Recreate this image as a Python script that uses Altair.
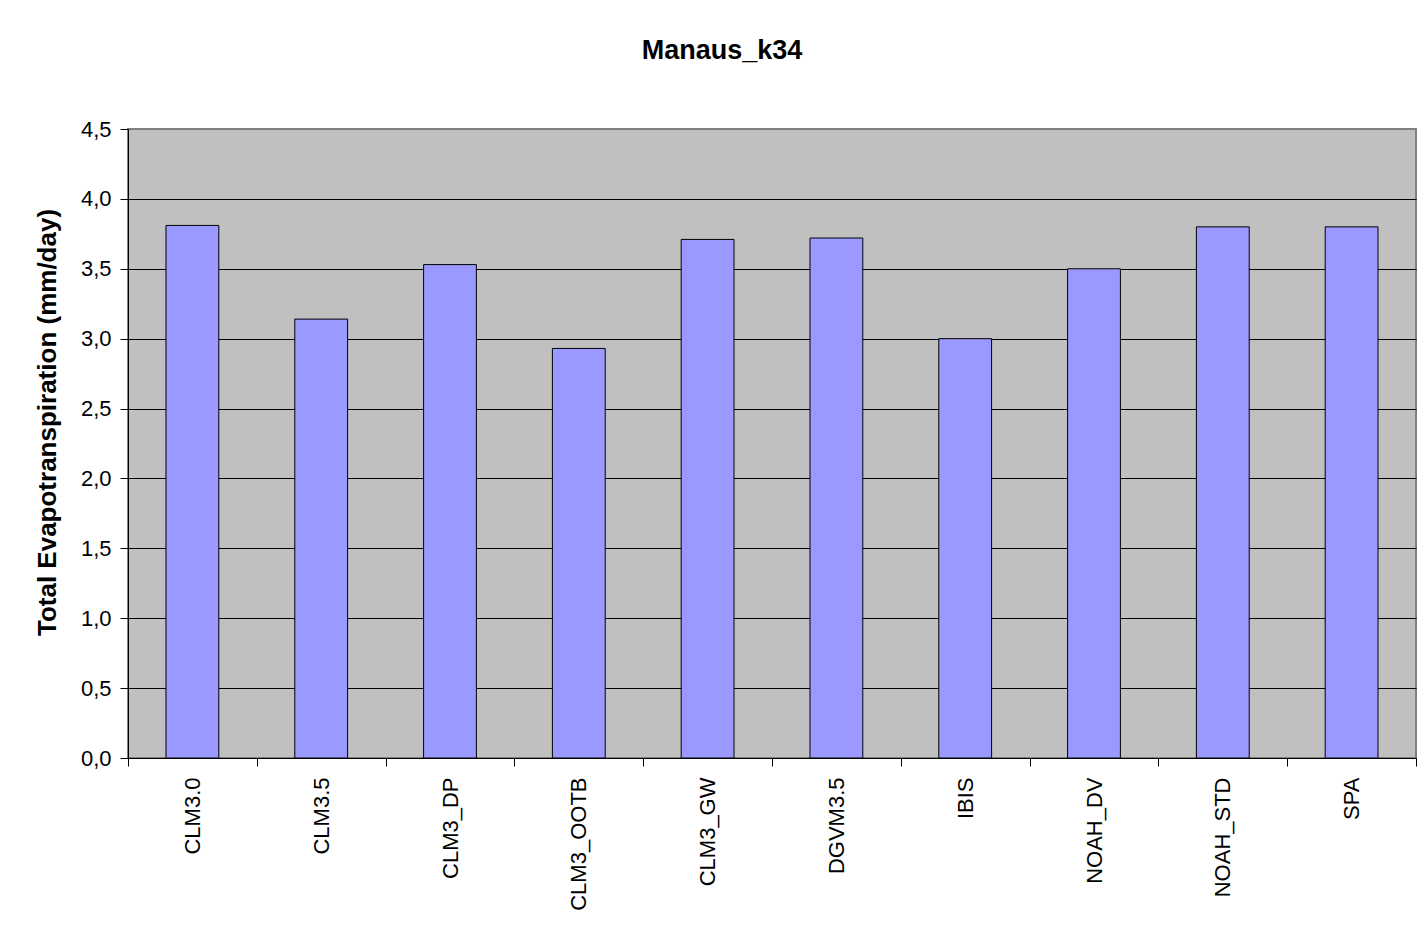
import altair as alt
import pandas as pd

models = ["CLM3.0", "CLM3.5", "CLM3_DP", "CLM3_OOTB", "CLM3_GW",
          "DGVM3.5", "IBIS", "NOAH_DV", "NOAH_STD", "SPA"]
et_values = [3.81, 3.14, 3.53, 2.93, 3.71, 3.72, 3.00, 3.50, 3.80, 3.80]
y_ticks = [0.0, 0.5, 1.0, 1.5, 2.0, 2.5, 3.0, 3.5, 4.0, 4.5]

df = pd.DataFrame({"model": models, "et": et_values})

FONT = "Liberation Sans"

chart = alt.Chart(df).mark_bar(
    color="#9999FF", stroke="#000000", strokeWidth=1,
    width=alt.RelativeBandSize(0.41)
).encode(
    x=alt.X("model:N", sort=models, title=None,
            scale=alt.Scale(paddingInner=0, paddingOuter=0),
            axis=alt.Axis(labelAngle=270, labelFont=FONT, labelFontSize=22,
                          labelColor="#000000", labelPadding=11,
                          tickBand="extent", tickSize=8, tickColor="#000000",
                          domainColor="#000000", domainWidth=1, grid=False)),
    y=alt.Y("et:Q", title="Total Evapotranspiration (mm/day)",
            scale=alt.Scale(domain=[0, 4.5], nice=False),
            axis=alt.Axis(values=y_ticks,
                          labelExpr="replace(format(datum.value, '.1f'), '.', ',')",
                          labelFont=FONT, labelFontSize=22, labelColor="#000000",
                          labelPadding=9, tickSize=8, tickColor="#000000",
                          domainColor="#000000", domainWidth=1,
                          grid=True,
                          gridColor=alt.condition("datum.value >= 4.5",
                                                  alt.value("#808080"),
                                                  alt.value("#000000")),
                          gridWidth=1,
                          titleFont=FONT, titleFontSize=26, titleFontWeight="bold",
                          titleColor="#000000", titleX=-81, titleY=293,
                          titleAlign="center", titleBaseline="middle", titleAngle=270))
).properties(
    width=1288, height=629,
    title=alt.TitleParams("Manaus_k34", font=FONT, fontSize=27, fontWeight="bold",
                          color="#000000", anchor="middle", frame="group",
                          dx=-50, offset=53),
    autosize=alt.AutoSizeParams(type="none"),
    padding={"left": 120, "top": 121, "right": 2, "bottom": 164},
    background="#FFFFFF"
).configure_view(
    fill="#C0C0C0", stroke="#808080", strokeWidth=2
)

chart.save("out.html", embed_options={"renderer": "svg", "actions": False})
